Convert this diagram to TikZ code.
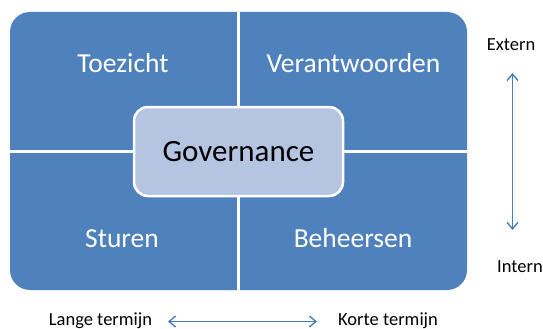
\documentclass[tikz,border=0pt]{standalone}
\usepackage{fontspec}
\setmainfont{Carlito}
\usetikzlibrary{arrows.meta}
\definecolor{quadblue}{HTML}{4F81BD}
\definecolor{govfill}{HTML}{B4C4E1}
\definecolor{arrblue}{HTML}{4A7EBB}
\tikzset{
  qtext/.style={anchor=base, inner sep=0pt, text=white, font=\fontsize{27.5}{32}\selectfont},
  govbox/.style={draw=white, line width=2.5pt, fill=govfill, rounded corners=14pt,
    minimum width=209pt, minimum height=89pt, inner sep=0pt,
    font=\fontsize{31}{36}\selectfont, text=black},
  side/.style={anchor=base, inner sep=0pt, text=black, font=\fontsize{18.5}{22}\selectfont},
  divider/.style={draw=white, line width=2.5pt},
  arr/.style={draw=arrblue, line width=1.4pt, {Straight Barb[length=6.5pt,width=11pt]}-{Straight Barb[length=6.5pt,width=11pt]}},
}
\begin{document}
\begin{tikzpicture}[x=1pt,y=-1pt]
\useasboundingbox (0,0) rectangle (543,329);
% frame
\fill[quadblue, rounded corners=20pt] (10,12) rectangle (467,290);
\draw[divider] (238.5,12) -- (238.5,290);
\draw[divider] (10,151.5) -- (467,151.5);
% quadrant labels
\node[qtext] (toezicht) at (123,72) {Toezicht};
\node[qtext] (verantwoorden) at (353.5,72) {Verantwoorden};
\node[qtext] (sturen) at (122,247) {Sturen};
\node[qtext] (beheersen) at (353,247) {Beheersen};
% centre
\node[govbox] (gov) at (238.5,151.5) {};
\node[anchor=base, inner sep=0pt, font=\fontsize{31}{36}\selectfont] (govtext) at (238.5,161) {Governance};
% side labels
\node[side] (extern) at (511,51) {Extern};
\node[side] (intern) at (520,272.5) {Intern};
\node[side] (lange) at (100.5,325) {Lange termijn};
\node[side] (korte) at (388,325) {Korte termijn};
% arrows
\coordinate (vtop) at (512.5,73);
\coordinate (vbot) at (512.5,230);
\coordinate (hleft) at (168,321.5);
\coordinate (hright) at (317,321.5);
\draw[arr] (vtop) -- (vbot);
\draw[arr] (hleft) -- (hright);
\end{tikzpicture}
\end{document}
